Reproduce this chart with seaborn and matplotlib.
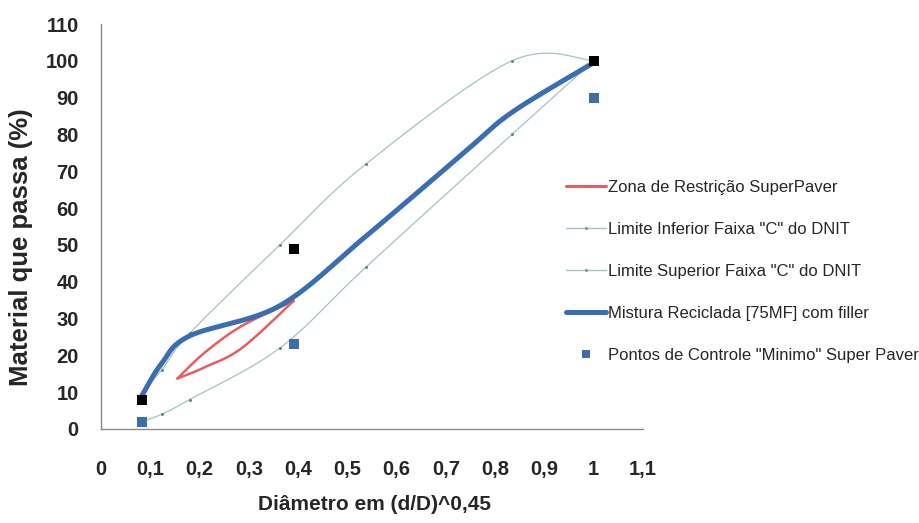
import numpy as np
import matplotlib
matplotlib.use("Agg")
import matplotlib.pyplot as plt
import seaborn as sns
from matplotlib.lines import Line2D
from matplotlib import font_manager

# ---------------- data ----------------
zona_x = [0.155, 0.211, 0.286, 0.391]
zona_sup_y = [13.7, 20.8, 28.0, 34.8]
zona_inf_y = [13.7, 16.8, 22.0, 34.8]

dnit_x = [0.0827, 0.123, 0.180, 0.363, 0.538, 0.834, 1.0]
dnit_inf_y = [2, 4, 8, 22, 44, 80, 100]
dnit_sup_y = [10, 16, 26, 50, 72, 100, 100]

mistura_x = [0.0827, 0.123, 0.180, 0.363, 0.538, 0.732, 0.834, 1.0]
mistura_y = [9.0, 17.8, 25.3, 33.5, 52.4, 74.5, 86.0, 99.5]

ctrl_x = [0.0827, 0.391, 1.0]
ctrl_min_y = [2, 23, 90]
ctrl_max_y = [8, 49, 100]

x_ticks = [0, 0.1, 0.2, 0.3, 0.4, 0.5, 0.6, 0.7, 0.8, 0.9, 1.0, 1.1]
x_tick_labels = ["0", "0,1", "0,2", "0,3", "0,4", "0,5", "0,6", "0,7", "0,8", "0,9", "1", "1,1"]
y_ticks = [0, 10, 20, 30, 40, 50, 60, 70, 80, 90, 100, 110]

labels = ["Zona de Restrição SuperPaver",
          "Limite Inferior Faixa \"C\" do DNIT",
          "Limite Superior Faixa \"C\" do DNIT",
          "Mistura Reciclada [75MF] com filler",
          "Pontos de Controle \"Minimo\" Super Paver"]


def smooth_render(xs, ys, n=40):
    """Excel-style smoothed line rendering (Bezier through the data points)."""
    P = np.column_stack([xs, ys]).astype(float)
    out = [P[0]]
    t = np.linspace(0, 1, n + 1)[1:, None]
    for i in range(len(P) - 1):
        p0 = P[i - 1] if i > 0 else P[i]
        p1, p2 = P[i], P[i + 1]
        p3 = P[i + 2] if i + 2 < len(P) else P[i + 1]
        c1 = p1 + (p2 - p0) / 6.0
        c2 = p2 - (p3 - p1) / 6.0
        seg = (1 - t) ** 3 * p1 + 3 * (1 - t) ** 2 * t * c1 + 3 * (1 - t) * t ** 2 * c2 + t ** 3 * p2
        out.extend(seg)
    arr = np.array(out)
    return arr[:, 0], arr[:, 1]


sns.set_style("white")
names = {f.name for f in font_manager.fontManager.ttflist}
base = "Liberation Sans" if "Liberation Sans" in names else "DejaVu Sans"
narrow = "Liberation Sans Narrow" if "Liberation Sans Narrow" in names else base
plt.rcParams["font.family"] = [base, "DejaVu Sans"]
tick_x_size = 17 if narrow != base else 14.5
tick_y_size = 16 if narrow != base else 14.5
xlabel_size = 18 if narrow != base else 15

BLUE = "#3B6DB3"
BLUE_SQ = "#3E6EA6"
RED = "#E35F62"
LIM = "#A3C6B6"
LIM_DOT = "#5F8E7C"

fig = plt.figure(figsize=(9.19, 5.23), dpi=100)
ax = fig.add_axes([101 / 919, 1 - 429 / 523, (643 - 101) / 919, (429 - 24) / 523])

# DNIT limits
for ys in (dnit_inf_y, dnit_sup_y):
    sx, sy = smooth_render(dnit_x, ys)
    sns.lineplot(x=sx, y=sy, sort=False, estimator=None, color=LIM, linewidth=0.9, ax=ax, legend=False)
    sns.scatterplot(x=dnit_x, y=ys, color=LIM_DOT, s=5, marker="o", linewidth=0, ax=ax, legend=False, zorder=3)

# restriction zone
for ys in (zona_sup_y, zona_inf_y):
    sx, sy = smooth_render(zona_x, ys)
    sns.lineplot(x=sx, y=sy, sort=False, estimator=None, color=RED, linewidth=1.8, ax=ax, legend=False)

# mixture
sx, sy = smooth_render(mistura_x, mistura_y)
sns.lineplot(x=sx, y=sy, sort=False, estimator=None, color=BLUE, linewidth=3.6, ax=ax, legend=False, zorder=4)

# control points
sns.scatterplot(x=ctrl_x, y=ctrl_min_y, color=BLUE_SQ, marker="s", s=45, linewidth=0, ax=ax, legend=False, zorder=5)
sns.scatterplot(x=ctrl_x, y=ctrl_max_y, color="black", marker="s", s=50, linewidth=0, ax=ax, legend=False, zorder=5)

ax.set_xlim(0, 1.1)
ax.set_ylim(0, 110)
ax.set_xticks(x_ticks)
ax.set_xticklabels(x_tick_labels, fontfamily=narrow, fontweight="bold", fontsize=tick_x_size)
ax.set_yticks(y_ticks)
ax.set_yticklabels([str(v) for v in y_ticks], fontfamily=narrow, fontweight="bold", fontsize=tick_y_size)
ax.tick_params(axis="x", length=6, width=1, color="#8a8a8a", pad=16)
ax.tick_params(axis="y", length=6, width=1, color="#8a8a8a", pad=10)
for side in ("top", "right"):
    ax.spines[side].set_visible(False)
for side in ("left", "bottom"):
    ax.spines[side].set_color("#8a8a8a")
    ax.spines[side].set_linewidth(1)

ax.set_xlabel("Diâmetro em (d/D)^0,45", fontfamily=narrow, fontweight="bold", fontsize=xlabel_size)
ax.xaxis.label.set_va("center")
ax.xaxis.set_label_coords((374 - 101) / 542, -(504 - 429) / 405)
ax.set_ylabel("Material que passa (%)", fontfamily=base, fontweight="bold", fontsize=18.5)
ax.yaxis.label.set_va("center")
ax.yaxis.set_label_coords((21 - 101) / 542, (429 - 247) / 405)

handles = [
    Line2D([], [], color=RED, linewidth=2.2),
    Line2D([], [], color=LIM, linewidth=1.0, marker="o", markersize=2, markerfacecolor=LIM_DOT, markeredgewidth=0),
    Line2D([], [], color=LIM, linewidth=1.0, marker="o", markersize=2, markerfacecolor=LIM_DOT, markeredgewidth=0),
    Line2D([], [], color=BLUE, linewidth=3.6),
    Line2D([], [], color=BLUE_SQ, linestyle="none", marker="s", markersize=6, markeredgewidth=0),
]
fig.legend(handles, labels, loc="upper left", bbox_to_anchor=(566 / 919, 1 - 180 / 523),
           bbox_transform=fig.transFigure, frameon=False, fontsize=12, borderpad=0,
           handlelength=2.4, handletextpad=0.15, labelspacing=1.62, borderaxespad=0)

fig.savefig("out.png", dpi=100)
